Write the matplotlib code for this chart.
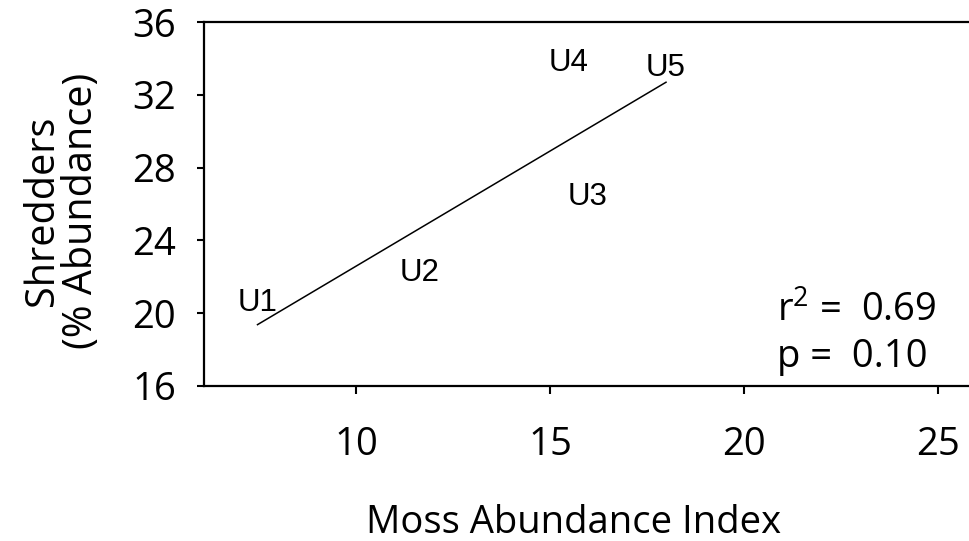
import matplotlib

matplotlib.use("Agg")

import matplotlib.pyplot as plt
import numpy as np

# site labels and values
sites = ["U1", "U2", "U3", "U4", "U5"]
moss_index = [7.46, 11.65, 15.98, 15.47, 17.99]
shredders = [20.55, 22.2, 26.38, 33.75, 33.5]

x_ticks = [10, 15, 20, 25]
y_ticks = [16, 20, 24, 28, 32, 36]

r2_text = "r$^2$ =  0.69"
p_text = "p =  0.10"

plt.rcParams["font.family"] = ["Open Sans", "DejaVu Sans"]
plt.rcParams["mathtext.fontset"] = "custom"
plt.rcParams["mathtext.rm"] = "Open Sans"

FS = 27.5

fig = plt.figure(figsize=(9.69, 5.41), dpi=100)
ax = fig.add_axes([0.2105, 0.287, 0.7895, 0.672])

# regression line across the range of the data
slope, intercept = np.polyfit(moss_index, shredders, 1)
fit_x = np.array([min(moss_index), max(moss_index)])
ax.plot(fit_x, slope * fit_x + intercept, color="black", linewidth=1.1)

for name, x, y in zip(sites, moss_index, shredders):
    ax.text(x, y, name, ha="center", va="center", fontsize=22.5,
            family="Liberation Sans")

ax.text(0.749, 0.176, r2_text, transform=ax.transAxes, fontsize=FS,
        ha="left", va="baseline")
ax.text(0.749, 0.052, p_text, transform=ax.transAxes, fontsize=FS,
        ha="left", va="baseline")

ax.set_xlim(6.08, 25.8)
ax.set_ylim(16, 36)
ax.set_xticks(x_ticks)
ax.set_yticks(y_ticks)
ax.tick_params(axis="x", direction="out", length=6, width=1.5, pad=23,
               labelsize=FS)
ax.tick_params(axis="y", direction="out", length=5, width=1.5, pad=15,
               labelsize=FS)

for side in ["top", "bottom", "left"]:
    ax.spines[side].set_linewidth(1.6)
ax.spines["right"].set_visible(False)

ax.set_xlabel("Moss Abundance Index", fontsize=FS, va="baseline")
ax.xaxis.set_label_coords(0.483, -0.404)
ax.set_ylabel("Shredders\n(% Abundance)", fontsize=FS + 1, linespacing=0.95)
ax.yaxis.set_label_coords(-0.133, 0.48)

fig.savefig("out.png", dpi=100)
